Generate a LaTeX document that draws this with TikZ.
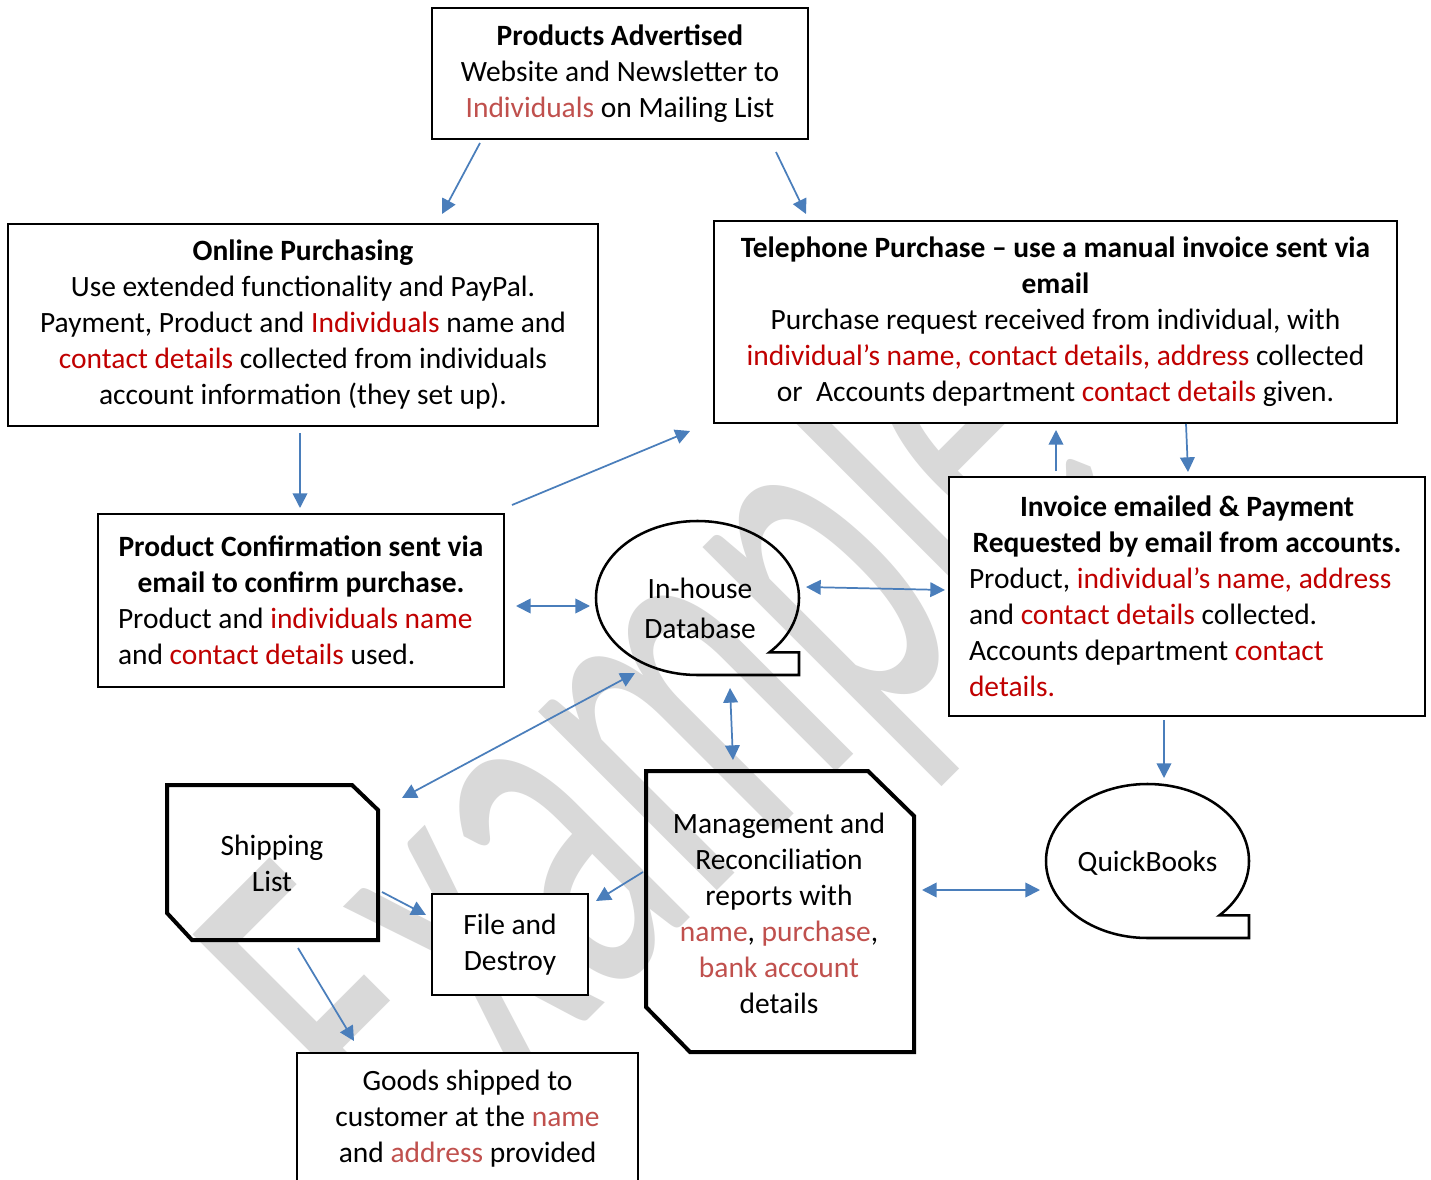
\documentclass[tikz,border=0pt]{standalone}
\usepackage{graphicx}
\usepackage{fontspec}
\setmainfont{Carlito}
\usetikzlibrary{arrows.meta}
\definecolor{arrowblue}{HTML}{4A7EBB}
\definecolor{dred}{HTML}{C00000}
\definecolor{lred}{HTML}{C0504D}
\definecolor{wmgray}{HTML}{D9D9D9}
\newcommand{\dr}[1]{\textcolor{dred}{#1}}
\newcommand{\lr}[1]{\textcolor{lred}{#1}}
\newcommand{\ctrline}[2]{\makebox[#1][c]{\textbf{#2}}}
\tikzset{
  every node/.style={font=\fontsize{22.1}{27}\selectfont, inner sep=0pt},
  tbox/.style={draw=black, line width=1.1pt, fill=white, align=center},
  heavy/.style={draw=black, line width=3pt, line join=miter},
  bubble/.style={draw=black, line width=1.9pt},
  conn/.style={draw=arrowblue, line width=1.3pt, -{Triangle[length=11pt,width=11pt]}},
  bconn/.style={draw=arrowblue, line width=1.3pt, {Triangle[length=11pt,width=11pt]}-{Triangle[length=11pt,width=11pt]}},
  lbl/.style={align=center}
}
\begin{document}
\begin{tikzpicture}[x=0.75pt,y=-0.75pt]
\clip (0,0) rectangle (1431,1180);
\fill[white] (0,0) rectangle (1431,1180);
% watermark
\node[text=wmgray, font=\fontsize{397}{397}\selectfont, rotate=45, anchor=base west] (wm) at (418,1190) {\scalebox{0.55}[1]{Example}};
% boxes
\node[tbox, minimum width=376*0.75pt, minimum height=131*0.75pt] (adv) at (620,73.5)
 {\textbf{Products Advertised}\\Website and Newsletter to\\\lr{Individuals} on Mailing List};
\node[tbox, minimum width=590*0.75pt, minimum height=202*0.75pt] (online) at (303,325)
 {\textbf{Online Purchasing}\\Use extended functionality and PayPal.\\Payment, Product and \dr{Individuals} name and\\\dr{contact details} collected from individuals\\account information (they set up).};
\node[tbox, minimum width=683*0.75pt, minimum height=202*0.75pt] (tel) at (1055.5,322)
 {\textbf{Telephone Purchase – use a manual invoice sent via}\\\textbf{email}\\Purchase request received from individual, with\\\dr{individual’s name, contact details, address} collected\\or\ \ Accounts department \dr{contact details} given.};
\node[tbox, minimum width=406*0.75pt, minimum height=173*0.75pt, align=left] (conf) at (301,600.5)
 {\ctrline{274.5pt}{Product Confirmation sent via}\\\ctrline{274.5pt}{email to confirm purchase.}\\Product and \dr{individuals name}\\and \dr{contact details} used.};
\node[tbox, minimum width=476*0.75pt, minimum height=239*0.75pt, align=left] (inv) at (1187,596.5)
 {\ctrline{327pt}{Invoice emailed \& Payment}\\\ctrline{327pt}{Requested by email from accounts.}\\Product, \dr{individual’s name, address}\\and \dr{contact details} collected.\\Accounts department \dr{contact}\\\dr{details.}};
\node[tbox, minimum width=156*0.75pt, minimum height=101*0.75pt] (file) at (510,944.5)
 {File and\\Destroy};
\node[tbox, minimum width=341*0.75pt, minimum height=131*0.75pt] (goods) at (467.5,1118.5)
 {Goods shipped to\\customer at the \lr{name}\\and \lr{address} provided};
% sequential-storage shapes
\draw[bubble] (697.5,675) arc[start angle=90, end angle=405, x radius=101.5, y radius=77] -- (799,652.4) -- (799,675) -- cycle;
\node[lbl] (db) at (700,608.5) {In-house\\[3pt]Database};
\draw[bubble] (1147.5,938) arc[start angle=90, end angle=405, x radius=101.5, y radius=77] -- (1249,915.4) -- (1249,938) -- cycle;
\node[lbl] (qb) at (1147.5,863) {QuickBooks};
% snip shapes
\draw[heavy] (167,785) -- (352,785) -- (378,810) -- (378,940) -- (192,940) -- (167,913) -- cycle;
\node[lbl] (ship) at (272,863) {Shipping\\List};
\draw[heavy] (646,771) -- (868,771) -- (914,816) -- (914,1052) -- (690,1052) -- (646,1007) -- cycle;
\node[lbl] (mgmt) at (779,913) {Management and\\Reconciliation\\reports with\\\lr{name}, \lr{purchase},\\\lr{bank account}\\details};
% connector end points
\coordinate (a1) at (480,143); \coordinate (a2) at (442,214);
\coordinate (b1) at (776,152); \coordinate (b2) at (806,214);
\coordinate (c1) at (300,433); \coordinate (c2) at (300,508);
\coordinate (d1) at (512,505); \coordinate (d2) at (690,431);
\coordinate (e1) at (1056,471); \coordinate (e2) at (1056,430);
\coordinate (f1) at (1186,424); \coordinate (f2) at (1188,472);
\coordinate (g1) at (516,606); \coordinate (g2) at (590,606);
\coordinate (h1) at (806,587); \coordinate (h2) at (945,590);
\coordinate (i1) at (1164,720); \coordinate (i2) at (1164,778);
\coordinate (j1) at (730,688); \coordinate (j2) at (733,760);
\coordinate (k1) at (402,798); \coordinate (k2) at (635,673);
\coordinate (l1) at (382,892); \coordinate (l2) at (426,915);
\coordinate (m1) at (643,872); \coordinate (m2) at (596,901);
\coordinate (n1) at (298,948); \coordinate (n2) at (354,1041);
\coordinate (o1) at (922,890); \coordinate (o2) at (1040,890);
\draw[conn] (a1) -- (a2);
\draw[conn] (b1) -- (b2);
\draw[conn] (c1) -- (c2);
\draw[conn] (d1) -- (d2);
\draw[conn] (e1) -- (e2);
\draw[conn] (f1) -- (f2);
\draw[bconn] (g1) -- (g2);
\draw[bconn] (h1) -- (h2);
\draw[conn] (i1) -- (i2);
\draw[bconn] (j1) -- (j2);
\draw[bconn] (k1) -- (k2);
\draw[conn] (l1) -- (l2);
\draw[conn] (m1) -- (m2);
\draw[conn] (n1) -- (n2);
\draw[bconn] (o1) -- (o2);
\end{tikzpicture}
\end{document}
